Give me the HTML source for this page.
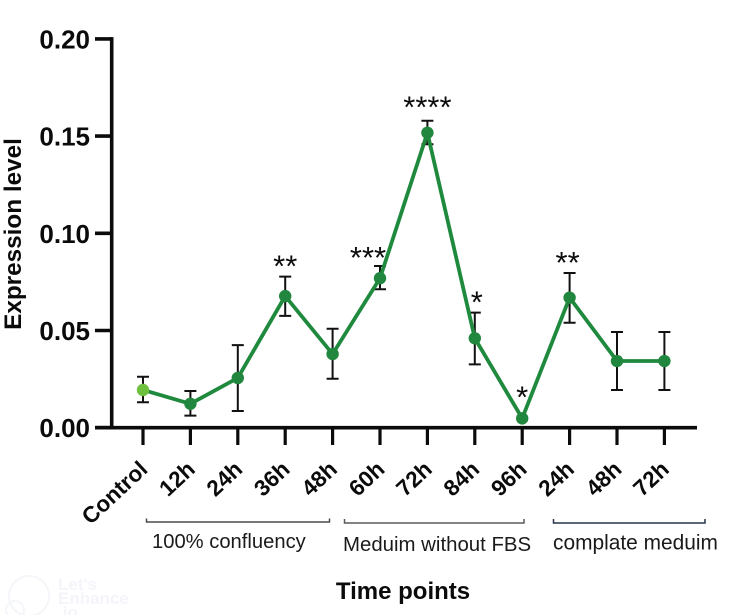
<!DOCTYPE html>
<html lang="en">
<head>
<meta charset="utf-8">
<title>Expression level over time points</title>
<style>
  html, body { margin: 0; padding: 0; background: #ffffff; }
  #chart { display: block; width: 736px; height: 615px; filter: blur(0.35px); }
  text { font-family: "Liberation Sans", sans-serif; fill: #0b0b0b; }
  .tick-y { font-size: 26px; font-weight: 700; }
  .tick-x { font-size: 22.5px; font-weight: 700; }
  .axis-title { font-size: 24.3px; font-weight: 700; }
  .x-title { font-size: 24px; }
  .group-label { font-size: 20.3px; fill: #1a1a1a; }
  .sig { font-size: 31px; }
  .wm { font-size: 17px; font-weight: 700; fill: #f4f5fa; }
</style>
</head>
<body>
<svg id="chart" xmlns="http://www.w3.org/2000/svg" width="736" height="615" viewBox="0 0 736 615">
  <g>
    <circle cx="29" cy="596" r="20" fill="none" stroke="#f5f6fa" stroke-width="2"></circle>
    <circle cx="15" cy="610" r="9" fill="none" stroke="#f5f6fa" stroke-width="2"></circle>
    <text class="wm" x="58" y="590">Let's</text>
    <text class="wm" x="58" y="604">Enhance</text>
    <text class="wm" x="58" y="618">.io</text>
  </g>
  <g id="axes"></g>
  <g id="errors"></g>
  <g id="series"></g>
  <g id="sig"></g>
  <text class="axis-title" transform="translate(21,234) rotate(-90)" text-anchor="middle">Expression level</text>
  <text class="axis-title x-title" x="403" y="599" text-anchor="middle">Time points</text>
  <g>
    <path d="M146.500 518.500V522H329.500V518.500" fill="none" stroke="#4a4a4a" stroke-width="1.500"></path>
    <path d="M344.500 519V523H524V519" fill="none" stroke="#5a5a5a" stroke-width="1.500"></path>
    <path d="M553.500 519V523H705V519" fill="none" stroke="#27344a" stroke-width="1.500"></path>
  </g>
  <text class="group-label" x="152" y="548" style="font-size:20.2px">100% confluency</text>
  <text class="group-label" x="343" y="551" style="font-size:20.4px">Meduim without FBS</text>
  <text class="group-label" x="553" y="549.500" style="font-size:20.9px">complate meduim</text>
</svg>
<script>
const categories = ["Control", "12h", "24h", "36h", "48h", "60h", "72h", "84h", "96h", "24h", "48h", "72h"];
const means = [0.0194, 0.0123, 0.0256, 0.0677, 0.0379, 0.0769, 0.1517, 0.0460, 0.0048, 0.0669, 0.0343, 0.0343];
const errorHigh = [0.0262, 0.0189, 0.0425, 0.0777, 0.0509, 0.0832, 0.1579, 0.0592, 0.0048, 0.0796, 0.0492, 0.0492];
const errorLow = [0.0131, 0.0062, 0.0086, 0.0575, 0.0252, 0.0712, 0.1458, 0.0326, 0.0048, 0.0540, 0.0194, 0.0194];
const significance = ["", "", "", "**", "", "***", "****", "*", "*", "**", "", ""];
const yTicks = [0, 0.05, 0.10, 0.15, 0.20];

const NS = "http://www.w3.org/2000/svg";
function xScale(i) { return 143 + i * 47.4; }
function yScale(v) { return 427.7 - v * 1944; }

function make(parent, tag, attrs) {
  const el = document.createElementNS(NS, tag);
  for (const k in attrs) el.setAttribute(k, attrs[k]);
  parent.appendChild(el);
  return el;
}

const axes = document.getElementById("axes");
const errors = document.getElementById("errors");
const series = document.getElementById("series");
const sig = document.getElementById("sig");

const ySpine = make(axes, "line", { x1: 111.7, x2: 111.7, y1: yScale(0.2) - 1.8, y2: yScale(0) + 1.8, stroke: "#0b0b0b", "stroke-width": 3.6 });



const xSpine = make(axes, "line", { x1: 95, x2: 697, y1: yScale(0), y2: yScale(0), stroke: "#0b0b0b", "stroke-width": 3.6 });



yTicks.forEach(function (t) {
  const mark = make(axes, "line", { x1: 95, x2: 112, y1: yScale(t), y2: yScale(t), stroke: "#0b0b0b", "stroke-width": 3.6 });
  
  
  const label = make(axes, "text", { x: 90, y: yScale(t) + 9.5, "text-anchor": "end", class: "tick-y" });
  label.textContent = t.toFixed(2);
  
  
});

categories.forEach(function (c, i) {
  const x = xScale(i);
  const mark = make(axes, "line", { x1: x, x2: x, y1: yScale(0), y2: 445, stroke: "#0b0b0b", "stroke-width": 3.2 });
  
  
  const label = make(axes, "text", { "text-anchor": "end", class: "tick-x", transform: "translate(" + (x + 6) + ",471) rotate(-43)" });
  label.textContent = c;
  
  
});

means.forEach(function (m, i) {
  if (errorHigh[i] === errorLow[i]) return;
  const x = xScale(i);
  const hi = yScale(errorHigh[i]);
  const lo = yScale(errorLow[i]);
  const bar = make(errors, "path", {
    d: "M" + (x - 6) + " " + hi + "H" + (x + 6) + "M" + x + " " + hi + "V" + lo + "M" + (x - 6) + " " + lo + "H" + (x + 6),
    fill: "none", stroke: "#111111", "stroke-width": 2
  });
  
  
});

const linePoints = means.map(function (m, i) { return xScale(i) + "," + yScale(m); }).join(" ");
const line = make(series, "polyline", { points: linePoints, fill: "none", stroke: "#1f8a3e", "stroke-width": 3.8, "stroke-linejoin": "miter" });



means.forEach(function (m, i) {
  const dot = make(series, "circle", { cx: xScale(i), cy: yScale(m), r: 6.2, fill: i === 0 ? "#6ec13f" : "#21873e" });
  
  
});

significance.forEach(function (s, i) {
  if (!s) return;
  const hasBar = errorHigh[i] !== errorLow[i];
  let dx = 0;
  if (s === "***") dx = -12;
  if (s === "*" && hasBar) dx = 2;
  if (s === "**" && i > 5) dx = -2;
  let lift = hasBar ? 0 : 11;
  if (s === "****") lift = 3;
  if (s === "***") lift = -2;
  const star = make(sig, "text", {
    x: xScale(i) + dx,
    y: yScale(errorHigh[i]) - lift,
    "text-anchor": "middle", class: "sig"
  });
  star.textContent = s;
  
  
});
</script>
</body>
</html>
